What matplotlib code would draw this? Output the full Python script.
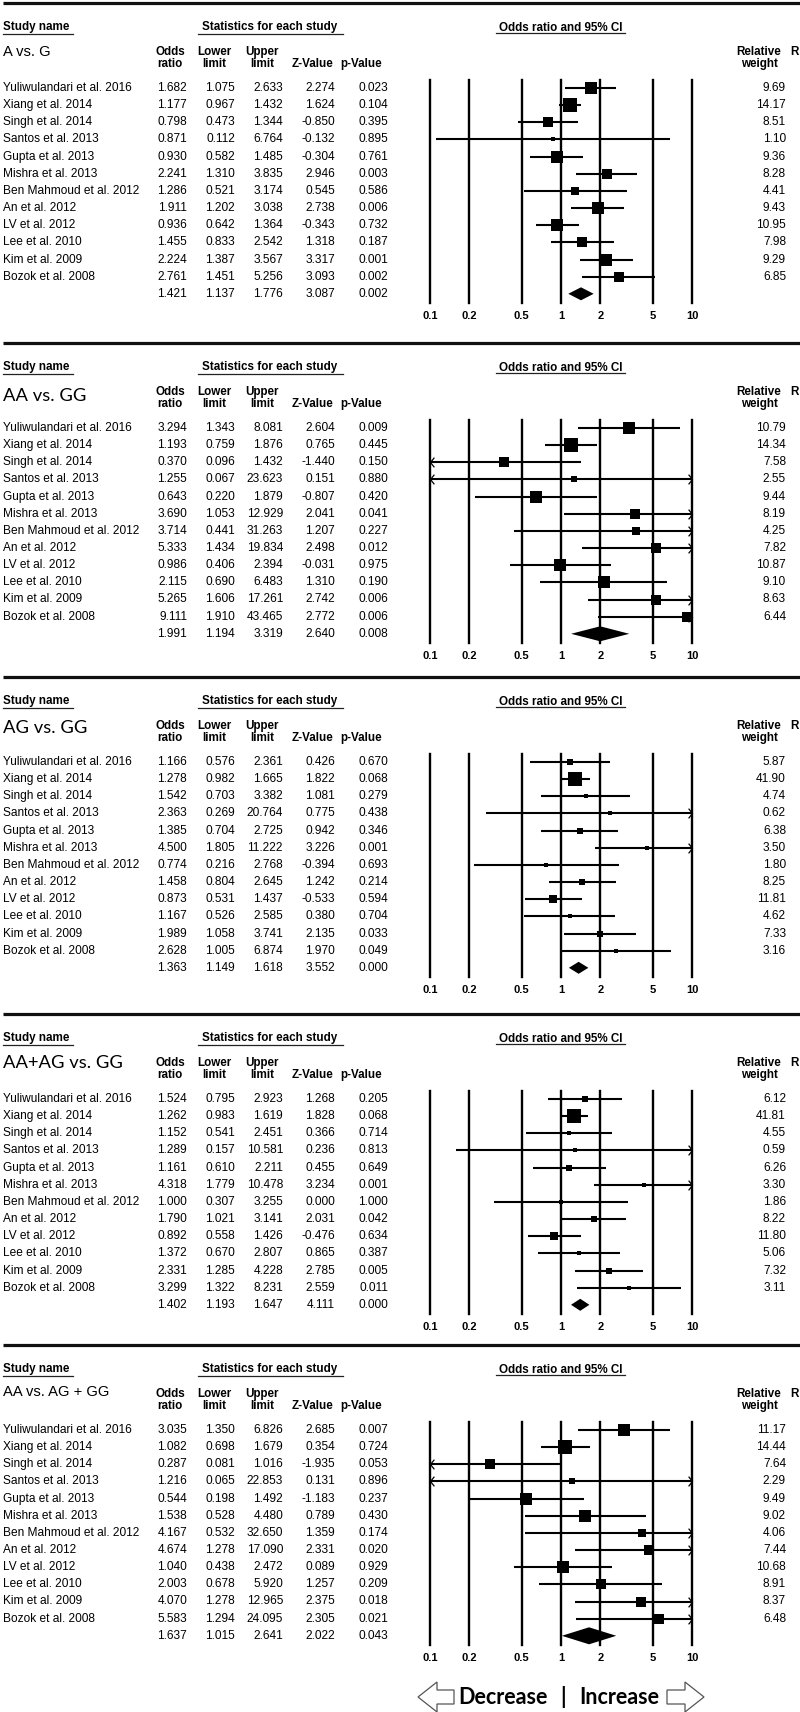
import matplotlib
matplotlib.use("Agg")
import matplotlib.pyplot as plt
import numpy as np
from matplotlib.path import Path
from matplotlib.patches import Polygon
from matplotlib.ticker import NullLocator

# ---------------- data ----------------
studies = ["Yuliwulandari et al. 2016", "Xiang et al. 2014", "Singh et al. 2014",
           "Santos et al. 2013", "Gupta et al. 2013", "Mishra et al. 2013",
           "Ben Mahmoud et al. 2012", "An et al. 2012", "LV et al. 2012",
           "Lee et al. 2010", "Kim et al. 2009", "Bozok et al. 2008"]

titles = ["A vs. G", "AA vs. GG", "AG vs. GG", "AA+AG vs. GG", "AA vs. AG + GG"]

# last entry of each list = pooled (summary) estimate
or_1 = [1.682, 1.177, 0.798, 0.871, 0.930, 2.241, 1.286, 1.911, 0.936, 1.455, 2.224, 2.761, 1.421]
lo_1 = [1.075, 0.967, 0.473, 0.112, 0.582, 1.310, 0.521, 1.202, 0.642, 0.833, 1.387, 1.451, 1.137]
hi_1 = [2.633, 1.432, 1.344, 6.764, 1.485, 3.835, 3.174, 3.038, 1.364, 2.542, 3.567, 5.256, 1.776]
z_1 = [2.274, 1.624, -0.850, -0.132, -0.304, 2.946, 0.545, 2.738, -0.343, 1.318, 3.317, 3.093, 3.087]
p_1 = [0.023, 0.104, 0.395, 0.895, 0.761, 0.003, 0.586, 0.006, 0.732, 0.187, 0.001, 0.002, 0.002]
w_1 = [9.69, 14.17, 8.51, 1.10, 9.36, 8.28, 4.41, 9.43, 10.95, 7.98, 9.29, 6.85]

or_2 = [3.294, 1.193, 0.370, 1.255, 0.643, 3.690, 3.714, 5.333, 0.986, 2.115, 5.265, 9.111, 1.991]
lo_2 = [1.343, 0.759, 0.096, 0.067, 0.220, 1.053, 0.441, 1.434, 0.406, 0.690, 1.606, 1.910, 1.194]
hi_2 = [8.081, 1.876, 1.432, 23.623, 1.879, 12.929, 31.263, 19.834, 2.394, 6.483, 17.261, 43.465, 3.319]
z_2 = [2.604, 0.765, -1.440, 0.151, -0.807, 2.041, 1.207, 2.498, -0.031, 1.310, 2.742, 2.772, 2.640]
p_2 = [0.009, 0.445, 0.150, 0.880, 0.420, 0.041, 0.227, 0.012, 0.975, 0.190, 0.006, 0.006, 0.008]
w_2 = [10.79, 14.34, 7.58, 2.55, 9.44, 8.19, 4.25, 7.82, 10.87, 9.10, 8.63, 6.44]

or_3 = [1.166, 1.278, 1.542, 2.363, 1.385, 4.500, 0.774, 1.458, 0.873, 1.167, 1.989, 2.628, 1.363]
lo_3 = [0.576, 0.982, 0.703, 0.269, 0.704, 1.805, 0.216, 0.804, 0.531, 0.526, 1.058, 1.005, 1.149]
hi_3 = [2.361, 1.665, 3.382, 20.764, 2.725, 11.222, 2.768, 2.645, 1.437, 2.585, 3.741, 6.874, 1.618]
z_3 = [0.426, 1.822, 1.081, 0.775, 0.942, 3.226, -0.394, 1.242, -0.533, 0.380, 2.135, 1.970, 3.552]
p_3 = [0.670, 0.068, 0.279, 0.438, 0.346, 0.001, 0.693, 0.214, 0.594, 0.704, 0.033, 0.049, 0.000]
w_3 = [5.87, 41.90, 4.74, 0.62, 6.38, 3.50, 1.80, 8.25, 11.81, 4.62, 7.33, 3.16]

or_4 = [1.524, 1.262, 1.152, 1.289, 1.161, 4.318, 1.000, 1.790, 0.892, 1.372, 2.331, 3.299, 1.402]
lo_4 = [0.795, 0.983, 0.541, 0.157, 0.610, 1.779, 0.307, 1.021, 0.558, 0.670, 1.285, 1.322, 1.193]
hi_4 = [2.923, 1.619, 2.451, 10.581, 2.211, 10.478, 3.255, 3.141, 1.426, 2.807, 4.228, 8.231, 1.647]
z_4 = [1.268, 1.828, 0.366, 0.236, 0.455, 3.234, 0.000, 2.031, -0.476, 0.865, 2.785, 2.559, 4.111]
p_4 = [0.205, 0.068, 0.714, 0.813, 0.649, 0.001, 1.000, 0.042, 0.634, 0.387, 0.005, 0.011, 0.000]
w_4 = [6.12, 41.81, 4.55, 0.59, 6.26, 3.30, 1.86, 8.22, 11.80, 5.06, 7.32, 3.11]

or_5 = [3.035, 1.082, 0.287, 1.216, 0.544, 1.538, 4.167, 4.674, 1.040, 2.003, 4.070, 5.583, 1.637]
lo_5 = [1.350, 0.698, 0.081, 0.065, 0.198, 0.528, 0.532, 1.278, 0.438, 0.678, 1.278, 1.294, 1.015]
hi_5 = [6.826, 1.679, 1.016, 22.853, 1.492, 4.480, 32.650, 17.090, 2.472, 5.920, 12.965, 24.095, 2.641]
z_5 = [2.685, 0.354, -1.935, 0.131, -1.183, 0.789, 1.359, 2.331, 0.089, 1.257, 2.375, 2.305, 2.022]
p_5 = [0.007, 0.724, 0.053, 0.896, 0.237, 0.430, 0.174, 0.020, 0.929, 0.209, 0.018, 0.021, 0.043]
w_5 = [11.17, 14.44, 7.64, 2.29, 9.49, 9.02, 4.06, 7.44, 10.68, 8.91, 8.37, 6.48]

ticks = [0.1, 0.2, 0.5, 1, 2, 5, 10]
tick_labels = ["0.1", "0.2", "0.5", "1", "2", "5", "10"]

panels = [
    (titles[0], or_1, lo_1, hi_1, z_1, p_1, w_1),
    (titles[1], or_2, lo_2, hi_2, z_2, p_2, w_2),
    (titles[2], or_3, lo_3, hi_3, z_3, p_3, w_3),
    (titles[3], or_4, lo_4, hi_4, z_4, p_4, w_4),
    (titles[4], or_5, lo_5, hi_5, z_5, p_5, w_5),
]

# ---------------- layout (pixels) ----------------
W, H = 800, 1712
fig = plt.figure(figsize=(W / 100, H / 100), dpi=100)
fig.patch.set_facecolor("white")
bg = fig.add_axes([0, 0, 1, 1])
bg.set_xlim(0, W)
bg.set_ylim(H, 0)
bg.axis("off")

ARIAL = "Liberation Sans"
CALI = "Lato"
FS = 8.6
HFS = 8.4
panel_top = [27, 367, 701, 1038, 1369]
title_font = [ARIAL, CALI, CALI, CALI, ARIAL]
title_size = [10.6, 13.2, 13.2, 13.2, 10.6]
title_dy = [25, 29, 27, 25, 23]
diamond_half = [6.5, 7.5, 6.0, 6.0, 8.5]
ROW0 = 61.0
DY = 17.15
col_right = [187, 235, 283, 335, 388]
WCOL = 786

chev = Path([(0.8, 1.0), (0.0, 0.0), (0.8, -1.0)],
            [Path.MOVETO, Path.LINETO, Path.LINETO])
chev_r = Path([(-0.8, 1.0), (0.0, 0.0), (-0.8, -1.0)],
              [Path.MOVETO, Path.LINETO, Path.LINETO])

for k, (title, ors, los, his, zs, ps, ws) in enumerate(panels):
    S = panel_top[k]
    # separator line above the panel
    bg.plot([3, W], [S - 24, S - 24], color="#111111", lw=2.3, solid_capstyle="butt")

    # headers
    bg.text(3, S, "Study name", fontfamily=ARIAL, fontweight="bold", fontsize=HFS,
            ha="left", va="center")
    bg.plot([3, 73], [S + 7, S + 7], color="#222222", lw=0.9)
    bg.text(270, S, "Statistics for each study", fontfamily=ARIAL, fontweight="bold",
            fontsize=HFS, ha="center", va="center")
    bg.plot([198, 343], [S + 7, S + 7], color="#222222", lw=0.9)
    bg.text(561, S + 1, "Odds ratio and 95% CI", fontfamily=ARIAL, fontweight="bold",
            fontsize=HFS, ha="center", va="center")
    bg.plot([496, 625], [S + 6, S + 6], color="#222222", lw=0.9)

    bg.text(3, S + title_dy[k], title, fontfamily=title_font[k], fontsize=title_size[k],
            ha="left", va="center")

    heads = [("Odds", "ratio", 170), ("Lower", "limit", 214), ("Upper", "limit", 262),
             ("", "Z-Value", 313), ("", "p-Value", 361), ("Relative", "weight", 759)]
    for h1, h2, xc in heads:
        if h1:
            bg.text(xc, S + 25, h1, fontfamily=ARIAL, fontweight="bold", fontsize=HFS,
                    ha="center", va="center")
        bg.text(xc, S + 37, h2, fontfamily=ARIAL, fontweight="bold", fontsize=HFS,
                ha="center", va="center")
    # partly visible header of the next (cropped) column
    bg.text(799, S + 25, "R", fontfamily=ARIAL, fontweight="bold", fontsize=HFS,
            ha="right", va="center")

    # table rows
    n = len(studies)
    for i in range(n + 1):
        y = S + ROW0 + DY * i
        if i < n:
            bg.text(3, y, studies[i], fontfamily=ARIAL, fontsize=FS, ha="left", va="center")
            bg.text(WCOL, y, f"{ws[i]:.2f}", fontfamily=ARIAL, fontsize=FS,
                    ha="right", va="center")
        vals = [ors[i], los[i], his[i], zs[i], ps[i]]
        for v, xr in zip(vals, col_right):
            bg.text(xr, y, f"{v:.3f}", fontfamily=ARIAL, fontsize=FS, ha="right", va="center")

    # forest plot axes
    top_px = S + 53
    bot_px = S + 276
    ax = fig.add_axes([430 / W, 1 - bot_px / H, 262 / W, (bot_px - top_px) / H])
    ax.set_xscale("log")
    ax.set_xlim(0.1, 10)
    ax.set_ylim((bot_px - S - ROW0) / DY, (top_px - S - ROW0) / DY)
    ax.patch.set_alpha(0)
    for sp in ax.spines.values():
        sp.set_visible(False)
    ax.yaxis.set_visible(False)
    ax.xaxis.set_minor_locator(NullLocator())
    ax.set_xticks(ticks)
    ax.set_xticklabels(tick_labels, fontfamily=ARIAL, fontweight="bold", fontsize=8.0)
    ax.tick_params(axis="x", length=0, pad=6)
    for t in ticks:
        ax.axvline(t, color="black", lw=1.7, clip_on=False, zorder=1)

    wmax = max(ws)
    for i in range(n):
        lo_c = max(los[i], 0.1)
        hi_c = min(his[i], 10)
        ax.plot([lo_c, hi_c], [i, i], color="black", lw=1.5, zorder=2,
                solid_capstyle="butt", clip_on=False)
        if los[i] < 0.1:
            ax.plot([0.1], [i], marker=chev, ms=7, mfc="none", mec="black", mew=0.9,
                    clip_on=False, zorder=3)
        if his[i] > 10:
            ax.plot([10], [i], marker=chev_r, ms=7, mfc="none", mec="black", mew=0.9,
                    clip_on=False, zorder=3)
        size_px = max(4.5, 14.0 * np.sqrt(ws[i] / wmax))
        ax.plot([ors[i]], [i], marker="s", ms=size_px * 0.72, mfc="black", mec="black",
                mew=0, zorder=4)

    # pooled diamond
    hd = diamond_half[k] / DY
    ax.fill([los[n], ors[n], his[n], ors[n]], [n, n - hd, n, n + hd], color="black",
            zorder=4, lw=0)

# Decrease | Increase arrows
yc = 1697
left_arrow = [(418, yc), (437, yc - 15), (437, yc - 7), (454, yc - 7), (454, yc + 7),
              (437, yc + 7), (437, yc + 15)]
right_arrow = [(704, yc), (685, yc - 15), (685, yc - 7), (667, yc - 7), (667, yc + 7),
               (685, yc + 7), (685, yc + 15)]
for poly in (left_arrow, right_arrow):
    bg.add_patch(Polygon(poly, closed=True, facecolor="white", edgecolor="#555555",
                         lw=0.9, clip_on=False))
bg.text(548, yc, "Decrease", fontfamily=CALI, fontweight="bold", fontsize=15.5,
        ha="right", va="center")
bg.text(563, yc, "|", fontfamily=CALI, fontweight="bold", fontsize=15.5,
        ha="center", va="center")
bg.text(579, yc, "Increase", fontfamily=CALI, fontweight="bold", fontsize=15.5,
        ha="left", va="center")

fig.savefig("out.png", dpi=100, facecolor="white")
